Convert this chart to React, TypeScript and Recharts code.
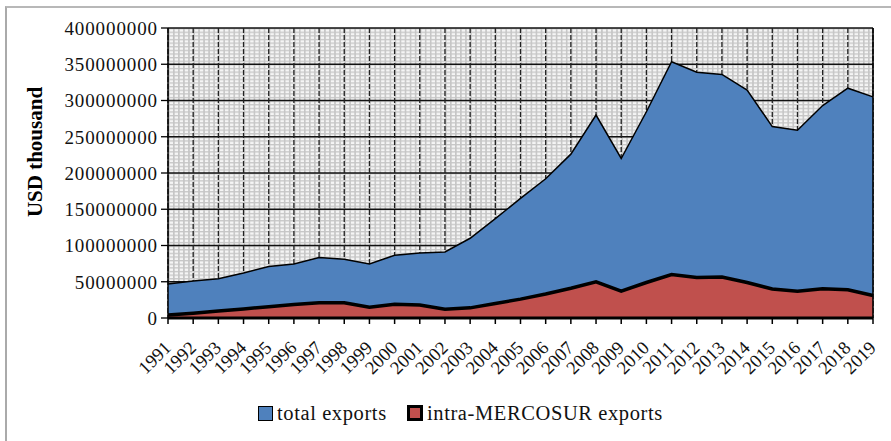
import React from 'react';
import { AreaChart, Area, XAxis, YAxis, CartesianGrid, ReferenceLine } from 'recharts';

const years = ['1991', '1992', '1993', '1994', '1995', '1996', '1997', '1998', '1999', '2000', '2001', '2002', '2003', '2004', '2005', '2006', '2007', '2008', '2009', '2010', '2011', '2012', '2013', '2014', '2015', '2016', '2017', '2018', '2019'];

const totalExports = [47000000, 51000000, 54000000, 62000000, 71000000, 74500000, 83500000, 81000000, 74500000, 86500000, 89500000, 91000000, 110000000, 137000000, 165000000, 192000000, 226000000, 280000000, 220000000, 284500000, 353500000, 339000000, 336000000, 314500000, 264000000, 259000000, 293000000, 317000000, 305000000];

const intraExports = [4000000, 6500000, 9500000, 12500000, 15500000, 18500000, 21000000, 21000000, 15000000, 19000000, 18000000, 12000000, 14000000, 20000000, 26000000, 33000000, 41000000, 50000000, 37000000, 49000000, 60000000, 56000000, 56500000, 49000000, 40000000, 37000000, 40500000, 39000000, 31000000];

const yTicks = [0, 50000000, 100000000, 150000000, 200000000, 250000000, 300000000, 350000000, 400000000];

const seriesNames = ['total exports', 'intra-MERCOSUR exports'];

const data = years.map((year, i) => ({ year, total: totalExports[i], intra: intraExports[i] }));

const FONT = "'Liberation Serif', 'Times New Roman', serif";

const XTick = (props: any) => {
  const { x, y, payload } = props;
  const ax = x + 4;
  const ay = y + 23;
  return (
    <text x={ax} y={ay} transform={`rotate(-45, ${ax}, ${ay})`} textAnchor="end" fontFamily={FONT} fontSize={18.5} fill="#111">
      {payload.value}
    </text>
  );
};

const YTick = (props: any) => {
  const { x, y, payload } = props;
  return (
    <text x={x - 1} y={y} dy="0.36em" textAnchor="end" fontFamily={FONT} fontSize={19} letterSpacing={0.9} fill="#111">
      {String(payload.value)}
    </text>
  );
};

const YLabel = () => (
  <text x={0} y={0} transform="translate(42, 152) rotate(-90)" textAnchor="middle" fontFamily={FONT} fontSize={21} fontWeight="bold" fill="#000">
    USD thousand
  </text>
);

export default function App() {
  return (
    <div style={{ position: 'absolute', left: 0, top: 0, width: 891, height: 441, background: '#fff' }}>
      <div style={{ position: 'absolute', left: 5, top: 6, width: 886, height: 435, borderLeft: '2px solid #aaaaaa', borderTop: '2px solid #b8b8b8', boxSizing: 'border-box' }} />
      <div style={{ position: 'absolute', left: 0, top: 0 }}>
        <AreaChart width={891} height={441} data={data} margin={{ top: 28, right: 18, bottom: 0, left: 0 }}>
          <defs>
            <pattern id="fineGrid" patternUnits="userSpaceOnUse" x={168} y={28} width={5.036} height={3.625}>
              <rect x={0} y={0} width={5.036} height={3.625} fill="#f5f5f5" />
              <rect x={0} y={0} width={1.6} height={3.625} fill="#c6c6c6" />
              <rect x={0} y={0} width={5.036} height={1.3} fill="#c6c6c6" />
            </pattern>
          </defs>
          <CartesianGrid vertical={false} stroke="#111" strokeWidth={1.3} fill="url(#fineGrid)" fillOpacity={1} />
          <CartesianGrid horizontal={false} stroke="#222" strokeWidth={1.3} strokeDasharray="5 2" />
          <XAxis
            dataKey="year"
            height={123}
            interval={0}
            tick={<XTick />}
            tickSize={6}
            tickLine={{ stroke: '#000', strokeWidth: 1.5 }}
            axisLine={{ stroke: '#000', strokeWidth: 3 }}
            padding={{ left: 0, right: 0 }}
          />
          <YAxis
            width={168}
            domain={[0, 400000000]}
            ticks={yTicks}
            interval={0}
            tick={<YTick />}
            tickSize={7}
            tickLine={{ stroke: '#000', strokeWidth: 1.3 }}
            axisLine={{ stroke: '#000', strokeWidth: 1.5 }}
            label={<YLabel />}
          />
          <Area name={seriesNames[0]} dataKey="total" type="linear" fill="#4F81BD" fillOpacity={1} stroke="#000" strokeWidth={1.5} dot={false} activeDot={false} isAnimationActive={false} />
          <Area name={seriesNames[1]} dataKey="intra" type="linear" fill="#C0504D" fillOpacity={1} stroke="#000" strokeWidth={3.5} dot={false} activeDot={false} isAnimationActive={false} />
          <ReferenceLine x="2019" stroke="#000" strokeWidth={1.6} />
        </AreaChart>
      </div>
      <div style={{ position: 'absolute', left: 0, top: 400, width: 891, display: 'flex', justifyContent: 'flex-start', fontFamily: FONT, fontSize: 20.5, letterSpacing: 0.6, color: '#111' }}>
        <div style={{ position: 'absolute', left: 258, top: 3, display: 'flex', alignItems: 'center' }}>
          <span style={{ display: 'inline-block', width: 13, height: 13, background: '#4F81BD', border: '1px solid #000', marginRight: 4 }} />
          <span style={{ lineHeight: '20px' }}>{seriesNames[0]}</span>
        </div>
        <div style={{ position: 'absolute', left: 407, top: 3, display: 'flex', alignItems: 'center' }}>
          <span style={{ display: 'inline-block', width: 10, height: 10, background: '#C0504D', border: '3px solid #000', marginRight: 4 }} />
          <span style={{ lineHeight: '20px' }}>{seriesNames[1]}</span>
        </div>
      </div>
    </div>
  );
}
